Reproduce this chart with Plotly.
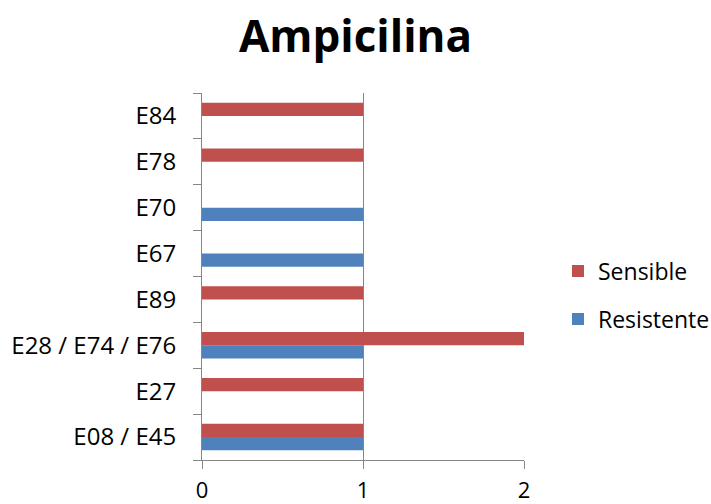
import plotly.graph_objects as go

categories = ["E08 / E45", "E27", "E28 / E74 / E76", "E89", "E67", "E70", "E78", "E84"]
resistente = [1, 0, 1, 0, 1, 1, 0, 0]
sensible = [1, 1, 2, 1, 0, 0, 1, 1]
x_ticks = [0, 1, 2]

BLUE = "#4F81BD"
RED = "#C0504D"
FONT = "Open Sans, Liberation Sans, Arial, sans-serif"
W, H = 711, 504

fig = go.Figure()
fig.add_trace(go.Bar(y=categories, x=resistente, orientation="h", name="Resistente",
                     marker=dict(color=BLUE, line=dict(width=0)), legend="legend2",
                     showlegend=True))
fig.add_trace(go.Bar(y=categories, x=sensible, orientation="h", name="Sensible",
                     marker=dict(color=RED, line=dict(width=0)), legend="legend",
                     showlegend=True))

leg_common = dict(xref="container", yref="container", xanchor="left", yanchor="middle",
                  font=dict(size=23, family=FONT), bgcolor="rgba(0,0,0,0)")

fig.update_layout(
    width=W, height=H,
    paper_bgcolor="white", plot_bgcolor="white",
    margin=dict(l=202, r=187, t=93, b=44),
    barmode="group", bargap=0.42, bargroupgap=0,
    showlegend=True,
    title=dict(text="<b>Ampicilina</b>", x=0.5, xref="container", xanchor="center",
               y=1 - 37 / H, yref="container", yanchor="middle",
               font=dict(family=FONT, size=44, color="black")),
    font=dict(family=FONT, color="black"),
    legend=dict(x=558 / W, y=1 - 271 / H, **leg_common),
    legend2=dict(x=558 / W, y=1 - 319 / H, **leg_common),
    xaxis=dict(range=[0, 2], tickvals=x_ticks, ticks="outside", ticklen=8,
               tickcolor="#868686", showline=True, linecolor="#868686", linewidth=1,
               showgrid=True, gridcolor="#868686", gridwidth=1, zeroline=False,
               tickfont=dict(size=22, family=FONT), ticklabelstandoff=3,
               automargin=False),
    yaxis=dict(categoryorder="array", categoryarray=categories,
               ticks="outside", ticklen=8, tickcolor="#868686", tickson="boundaries",
               showline=True, linecolor="#868686", linewidth=1, showgrid=False,
               tickfont=dict(size=24, family=FONT), ticklabelstandoff=20,
               automargin=False),
)

fig.write_html("out.html", config={"displayModeBar": False},
               post_script="document.body.style.margin='0';document.body.style.padding='0';")
